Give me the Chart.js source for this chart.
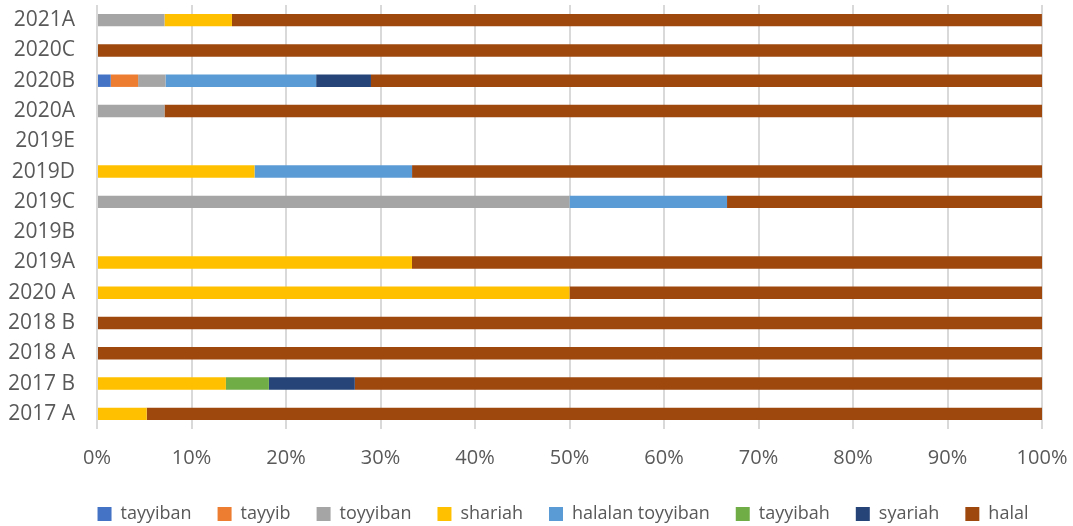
<!DOCTYPE html>
<html><head><meta charset="utf-8">
<script src="https://cdn.jsdelivr.net/npm/chart.js@4/dist/chart.umd.min.js"></script>
<style>html,body{margin:0;padding:0;background:#fff}#wrap{width:1073px;height:526px;position:relative}</style>
</head><body><div id="wrap"><canvas id="c" width="1073" height="526"></canvas></div>
<script>
const categories = ["2021A","2020C","2020B","2020A","2019E","2019D","2019C","2019B","2019A","2020 A","2018 B","2018 A","2017 B","2017 A"];
const tayyiban        = [0,0,1.45,0,0,0,0,0,0,0,0,0,0,0];
const tayyib          = [0,0,2.90,0,0,0,0,0,0,0,0,0,0,0];
const toyyiban        = [7.14,0,2.90,7.14,0,0,50,0,0,0,0,0,0,0];
const shariah         = [7.14,0,0,0,0,16.67,0,0,33.33,50,0,0,13.64,5.26];
const halalanToyyiban = [0,0,15.94,0,0,16.67,16.67,0,0,0,0,0,0,0];
const tayyibah        = [0,0,0,0,0,0,0,0,0,0,0,0,4.55,0];
const syariah         = [0,0,5.80,0,0,0,0,0,0,0,0,0,9.09,0];
const halal           = [85.71,100,71.01,92.86,0,66.67,33.33,0,66.67,50,100,100,72.73,94.74];
const xTicks = [0,10,20,30,40,50,60,70,80,90,100];

const series = [
  ["tayyiban", tayyiban, "#4472C4"],
  ["tayyib", tayyib, "#ED7D31"],
  ["toyyiban", toyyiban, "#A5A5A5"],
  ["shariah", shariah, "#FFC000"],
  ["halalan toyyiban", halalanToyyiban, "#5B9BD5"],
  ["tayyibah", tayyibah, "#70AD47"],
  ["syariah", syariah, "#264478"],
  ["halal", halal, "#9E480E"]
];
const FONT = "'Open Sans', sans-serif";
const legendShift = {
  id: 'legendShift',
  afterLayout(chart) {
    const lg = chart.legend;
    if (!lg) return;
    const dx = 42, dy = 7;
    lg.left += dx; lg.right += dx; lg.top += dy; lg.bottom += dy;
  }
};
new Chart(document.getElementById('c'), {
  type: 'bar',
  data: {
    labels: categories,
    datasets: series.map(([n, d, c]) => ({label: n, data: d, backgroundColor: c, borderWidth: 0, barPercentage: 0.82, categoryPercentage: 0.5}))
  },
  options: {
    indexAxis: 'y',
    responsive: false,
    animation: false,
    layout: {padding: {top: 5, right: 31, left: 0, bottom: 0}},
    plugins: {
      legend: {position: 'bottom', labels: {font: {family: FONT, size: 18}, color: '#595959', boxWidth: 14, boxHeight: 14, padding: 26}},
      tooltip: {enabled: false}
    },
    scales: {
      x: {
        stacked: true, min: 0, max: 100,
        afterBuildTicks: ax => { ax.ticks = xTicks.map(v => ({value: v})); },
        afterFit: ax => { ax.height = 43; ax.paddingLeft = 0; ax.paddingRight = 0; },
        ticks: {callback: v => v + '%', font: {family: FONT, size: 20}, color: '#595959', padding: 17},
        grid: {color: '#D9D9D9', lineWidth: 2, drawTicks: false},
        border: {display: false}
      },
      y: {
        stacked: true,
        afterFit: ax => { ax.width = 97; ax.paddingTop = 0; ax.paddingBottom = 0; },
        ticks: {font: {family: FONT, size: 21}, color: '#595959', padding: 22},
        grid: {display: false, drawTicks: false},
        border: {display: false}
      }
    }
  },
  plugins: [legendShift]
});
</script></body></html>
